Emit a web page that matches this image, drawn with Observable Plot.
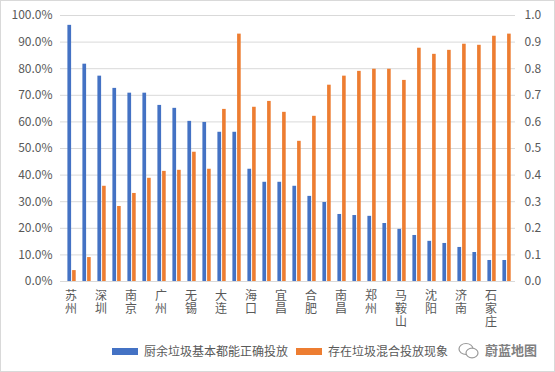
<!DOCTYPE html>
<html><head><meta charset="utf-8">
<script src="https://cdn.jsdelivr.net/npm/d3@7"></script>
<script src="https://cdn.jsdelivr.net/npm/@observablehq/plot@0.6"></script>
<style>
body{margin:0;background:#fff;}
#wrap{position:relative;width:555px;height:372px;font-family:"Noto Sans CJK SC","Noto Sans",sans-serif;overflow:hidden;}
#chart{position:absolute;left:0;top:0;}
#border{position:absolute;left:0;top:0;width:553px;height:370px;border:1px solid #d9d9d9;pointer-events:none;}
.lg{position:absolute;top:343px;font-size:12px;color:#595959;line-height:16px;white-space:nowrap;}
.sw{display:inline-block;width:26px;height:7px;vertical-align:middle;margin-right:6px;position:relative;top:-1px;}
#wm{position:absolute;left:458px;top:340px;font-size:13px;color:#7f7f7f;font-weight:bold;white-space:nowrap;line-height:20px;}
#wm svg{vertical-align:middle;margin-right:6px;}
</style></head><body>
<div id="wrap">
<div id="chart"></div>
<div class="lg" style="left:112px;"><span class="sw" style="background:#4472C4"></span>厨余垃圾基本都能正确投放</div>
<div class="lg" style="left:296px;"><span class="sw" style="background:#ED7D31"></span>存在垃圾混合投放现象</div>
<div id="wm"><svg width="21" height="18" viewBox="0 0 21 18"><ellipse cx="8" cy="7" rx="7" ry="5.5" fill="none" stroke="#9a9a9a" stroke-width="1.2"/><ellipse cx="14" cy="11" rx="6" ry="4.8" fill="#fff" stroke="#9a9a9a" stroke-width="1.2"/></svg>蔚蓝地图</div>
<div id="border"></div>
</div>
<script>
const cities = ["苏州","城市02","深圳","城市04","南京","城市06","广州","城市08","无锡","城市10",
  "大连","城市12","海口","城市14","宜昌","城市16","合肥","城市18","南昌","城市20",
  "郑州","城市22","马鞍山","城市24","沈阳","城市26","济南","城市28","石家庄","城市30"];
const shownLabels = ["苏州","深圳","南京","广州","无锡","大连","海口","宜昌","合肥","南昌","郑州","马鞍山","沈阳","济南","石家庄"];
const seriesNames = ["厨余垃圾基本都能正确投放","存在垃圾混合投放现象"];
const correctShare = [0.963,0.817,0.772,0.726,0.708,0.708,0.662,0.651,0.602,0.598,
  0.561,0.561,0.422,0.373,0.373,0.358,0.320,0.297,0.252,0.248,
  0.245,0.218,0.196,0.173,0.151,0.143,0.128,0.109,0.079,0.079];
const mixedShare = [0.041,0.090,0.358,0.282,0.331,0.388,0.414,0.418,0.486,0.422,
  0.647,0.930,0.655,0.677,0.636,0.527,0.621,0.738,0.772,0.790,
  0.798,0.798,0.756,0.877,0.854,0.869,0.892,0.888,0.922,0.930];
const yTicks = [0,0.1,0.2,0.3,0.4,0.5,0.6,0.7,0.8,0.9,1.0];
const colors = ["#4472C4","#ED7D31"];

const correctData = cities.map((c,i)=>({city:c, value:correctShare[i]}));
const mixedData = cities.map((c,i)=>({city:c, value:mixedShare[i]}));

const font = '"Noto Sans CJK SC","Noto Sans",sans-serif';
const chart = Plot.plot({
  width: 555,
  height: 372,
  marginTop: 15,
  marginBottom: 91,
  marginLeft: 60,
  marginRight: 40,
  style: {fontFamily: font, fontSize: "12px", color: "#595959", background: "transparent"},
  x: {domain: cities, padding: 0, label: null},
  y: {domain: [0, 1], label: null},
  marks: [
    Plot.gridY(yTicks, {stroke: "#d9d9d9", strokeOpacity: 1}),
    Plot.barY(correctData, {x: "city", y: "value", fill: colors[0], insetLeft: 4.4, insetRight: 6.9}),
    Plot.barY(mixedData, {x: "city", y: "value", fill: colors[1], insetLeft: 9.1, insetRight: 2.3}),
    Plot.axisY({anchor: "left", ticks: yTicks, tickFormat: d3.format(".1%"), tickSize: 0, tickPadding: 8, label: null, fontSize: 12, fill: "#595959"}),
    Plot.axisY({anchor: "right", ticks: yTicks, tickFormat: d3.format(".1f"), tickSize: 0, tickPadding: 9, label: null, fontSize: 12, fill: "#595959"}),
    Plot.axisX({anchor: "bottom", ticks: shownLabels, tickSize: 0, tickPadding: 9, label: null, fontSize: 12, fill: "#595959", lineHeight: 1.1,
      tickFormat: d => d.split("").join("\n")})
  ]
});
document.getElementById("chart").appendChild(chart);
</script>
</body></html>
